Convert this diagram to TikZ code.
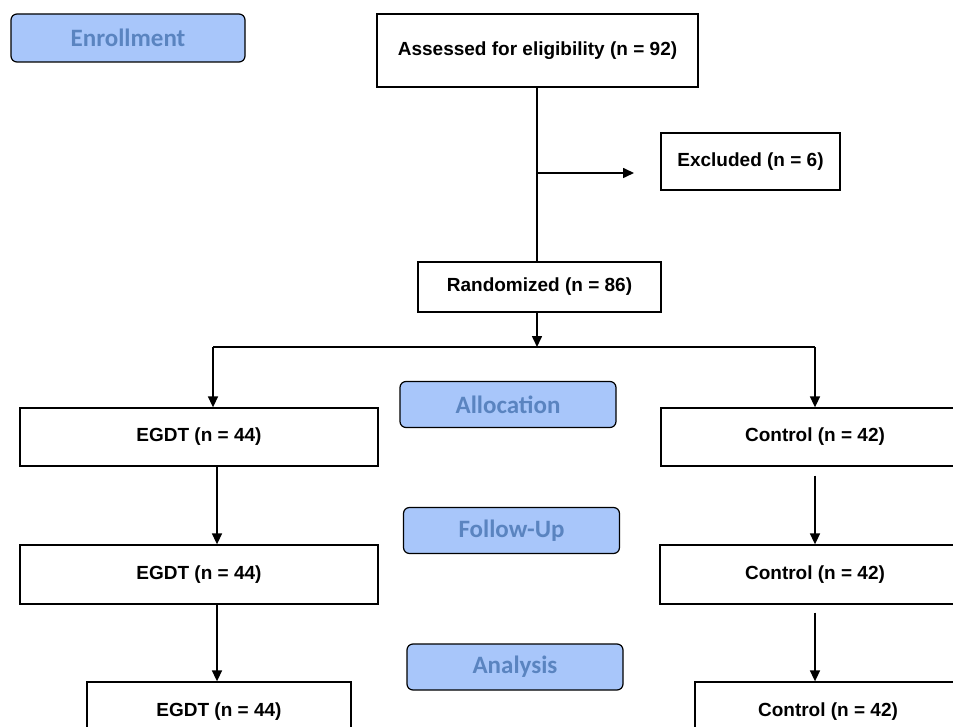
\documentclass[tikz,border=0pt]{standalone}
\usepackage{fontspec}
\setmainfont{Liberation Sans}
\newfontfamily\stagefont{Carlito}
\usepackage{tikz}
\usetikzlibrary{
	positioning,
	arrows.meta
}
\definecolor{stagefill}{RGB}{168,198,250}
\definecolor{stagetext}{RGB}{90,132,192}

\begin{document}
\begin{tikzpicture}[
		x=1pt,y=-1pt,
		box/.style={draw,line width=1.3pt,fill=white,inner sep=0pt,
			font=\fontsize{19}{22}\selectfont\bfseries},
		stage/.style={draw,line width=1.2pt,rounded corners=6pt,fill=stagefill,
			inner sep=0pt,minimum width=216pt,minimum height=46pt,
			text=stagetext,font=\stagefont\fontsize{25}{28}\selectfont\bfseries},
		arr/.style={line width=1.6pt,-{Triangle[length=11pt,width=10pt]}},
		ln/.style={line width=1.6pt}
	]
		\useasboundingbox (0,0) rectangle (953,727);
		\clip (0,0) rectangle (953,727);

		\draw
			node[stage,minimum width=234pt,minimum height=48pt] (enroll) at (128,38)    {Enrollment}
			node[stage]                                         (alloc)  at (508,404.5) {Allocation}
			node[stage]                                         (follow) at (511.5,530.5) {Follow-Up}
			node[stage]                                         (anal)   at (515,667)   {Analysis}

			node[box,minimum width=321pt,minimum height=73pt] (assess) at (537.5,50.5) {Assessed for eligibility (n = 92)}
			node[box,minimum width=179pt,minimum height=57pt] (excl)   at (750.5,161.5) {Excluded (n = 6)}
			node[box,minimum width=243pt,minimum height=50pt] (rand)   at (539.5,287)  {Randomized (n = 86)}

			node[box,minimum width=358pt,minimum height=58pt] (egdt1)  at (199,437)    {EGDT (n = 44)}
			node[box,minimum width=308pt,minimum height=58pt] (ctrl1)  at (815,437)    {Control (n = 42)}
			node[box,minimum width=358pt,minimum height=59pt] (egdt2)  at (199,574.5)  {EGDT (n = 44)}
			node[box,minimum width=310pt,minimum height=59pt] (ctrl2)  at (815,574.5)  {Control (n = 42)}
			node[box,minimum width=264pt,minimum height=60pt] (egdt3)  at (219,712)    {EGDT (n = 44)}
			node[box,minimum width=266pt,minimum height=60pt] (ctrl3)  at (828,712)    {Control (n = 42)}
		;

		% split points
		\coordinate (top)    at (537,87);
		\coordinate (side)   at (537,173);
		\coordinate (exclin) at (634,173);
		\coordinate (fork)   at (537,347);
		\coordinate (forkL)  at (213,347);
		\coordinate (forkR)  at (815,347);
		\coordinate (colL)   at (217,0);
		\coordinate (colR)   at (815,0);

		\draw[ln]  (top) -- (top |- rand.north);
		\draw[arr] (side) -- (exclin);
		\draw[arr] (top |- rand.south) -- (fork);
		\draw[ln]  (forkL) -- (forkR);
		\draw[arr] (forkL) -- (forkL |- egdt1.north);
		\draw[arr] (forkR) -- (forkR |- ctrl1.north);

		\draw[arr] (colL |- egdt1.south) -- (colL |- egdt2.north);
		\draw[arr] (colL |- egdt2.south) -- (colL |- egdt3.north);
		\draw[arr,shorten <=9pt] (colR |- ctrl1.south) -- (colR |- ctrl2.north);
		\draw[arr,shorten <=8pt] (colR |- ctrl2.south) -- (colR |- ctrl3.north);
\end{tikzpicture}
\end{document}
